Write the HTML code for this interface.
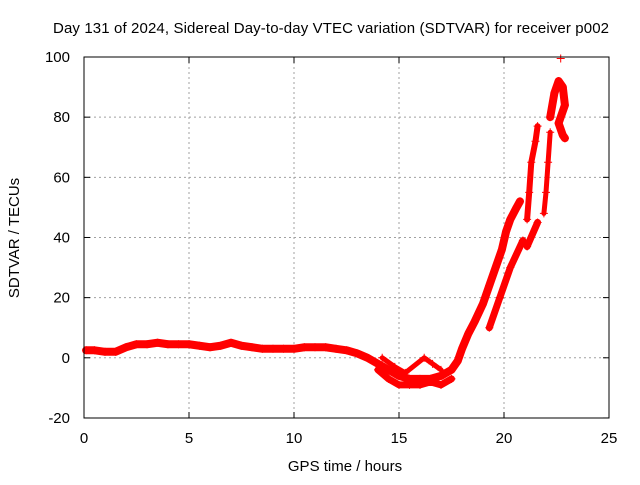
<!DOCTYPE html>
<html><head><meta charset="utf-8"><style>
body{margin:0;background:#fff}
svg{font-family:"Liberation Sans",sans-serif;font-size:15px}
</style></head><body>
<svg id="c" width="640" height="480">
<rect width="640" height="480" fill="#fff"/>
<g id="grid"></g>
<g id="series"></g>
<rect x="84" y="57" width="525" height="361" fill="none" stroke="#000" stroke-width="1"/>
<g id="ticks"></g>
<text x="331" y="33" text-anchor="middle" textLength="556">Day 131 of 2024, Sidereal Day-to-day VTEC variation (SDTVAR) for receiver p002</text>
<text x="345" y="471" text-anchor="middle">GPS time / hours</text>
<text transform="translate(19,238) rotate(-90)" text-anchor="middle">SDTVAR / TECUs</text>
</svg>
<script>
const xTicks=[0,5,10,15,20,25];
const yTicks=[-20,0,20,40,60,80,100];
const mainT=[0.1,0.5,1,1.5,2,2.5,3,3.5,4,4.5,5,5.5,6,6.5,7,7.5,8,8.5,9,9.5,10,10.5,11,11.5,12,12.5,13,13.5,14,14.5,15,15.5,16,16.5,17,17.5,17.8,18,18.3,18.6,19,19.3,19.6,19.9,20.1,20.3,20.6,20.76];
const mainV=[2.5,2.5,2,2,3.5,4.5,4.5,5,4.5,4.5,4.5,4,3.5,4,5,4,3.5,3,3,3,3,3.5,3.5,3.5,3,2.5,1.5,0,-2,-4,-6,-7,-7,-7,-6,-4,-1,3,8,12,18,24,30,36,42,46,50,52];
const lowT=[14,14.5,15,15.5,16,16.5,17,17.5];
const lowV=[-4,-7,-9,-9,-9,-8,-9,-7];
const crossT=[14.2,14.8,15.3,16.2,16.6,17];
const crossV=[0,-3,-5,0,-2,-4];
const b2T=[19.3,19.8,20.3,20.9];
const b2V=[10,20,30,39];
const b3T=[21.1,21.6];
const b3V=[37,45];
const c1T=[21.1,21.2,21.3,21.5,21.6];
const c1V=[46,55,65,72,77];
const c2T=[21.9,22.0,22.1,22.2];
const c2V=[48,55,65,75];
const topT=[22.2,22.4,22.6,22.8,22.9,22.6,22.8,22.9];
const topV=[80,88,92,90,84,78,74,73];
const outT=[22.7];
const outV=[99.5];
const X=t=>84+t*21, Y=v=>357.8-v*3.008;
const NS='http://www.w3.org/2000/svg';
function mk(tag,attrs,parent){const e=document.createElementNS(NS,tag);for(const k in attrs)e.setAttribute(k,attrs[k]);parent.appendChild(e);return e;}
const grid=document.getElementById('grid'),ticks=document.getElementById('ticks'),ser=document.getElementById('series');
xTicks.forEach(t=>{
 if(t>0&&t<25){const g=mk('line',{x1:X(t),x2:X(t),y1:57,y2:418,stroke:'#a0a0a0','stroke-dasharray':'2,3'},grid);
 
 }
 mk('line',{x1:X(t),x2:X(t),y1:418,y2:412,stroke:'#000'},ticks);
 mk('line',{x1:X(t),x2:X(t),y1:57,y2:63,stroke:'#000'},ticks);
 const l=mk('text',{x:X(t),y:443,'text-anchor':'middle'},ticks);l.textContent=t;
 
 
});
yTicks.forEach(v=>{
 if(v>-20&&v<100){const g=mk('line',{x1:84,x2:609,y1:Y(v),y2:Y(v),stroke:'#a0a0a0','stroke-dasharray':'2,3'},grid);
 
 }
 mk('line',{x1:84,x2:90,y1:Y(v),y2:Y(v),stroke:'#000'},ticks);
 mk('line',{x1:609,x2:603,y1:Y(v),y2:Y(v),stroke:'#000'},ticks);
 const l=mk('text',{x:70,y:Y(v)+5,'text-anchor':'end'},ticks);l.textContent=v;
 
 
});
function band(T,V,w,name){
 const p=mk('polyline',{points:T.map((t,i)=>X(t)+','+Y(V[i])).join(' '),fill:'none',stroke:'#f00','stroke-width':w,'stroke-linejoin':'round','stroke-linecap':'round'},ser);
 
 
 T.forEach((t,i)=>{const x=X(t),y=Y(V[i]);
  const m=mk('path',{d:`M${x-4},${y}h8M${x},${y-4}v8`,stroke:'#f00','stroke-width':1},ser);
  
  });
}
band(mainT,mainV,8,'main-track');
band(lowT,lowV,7,'low-branch');
band(crossT,crossV,5,'cross-branch');
band(b2T,b2V,7,'branch-2');
band(b3T,b3V,7,'branch-3');
band(c1T,c1V,6,'column-1');
band(c2T,c2V,5,'column-2');
band(topT,topV,8,'top-cluster');
band(outT,outV,1,'outlier');
</script>
</body></html>
